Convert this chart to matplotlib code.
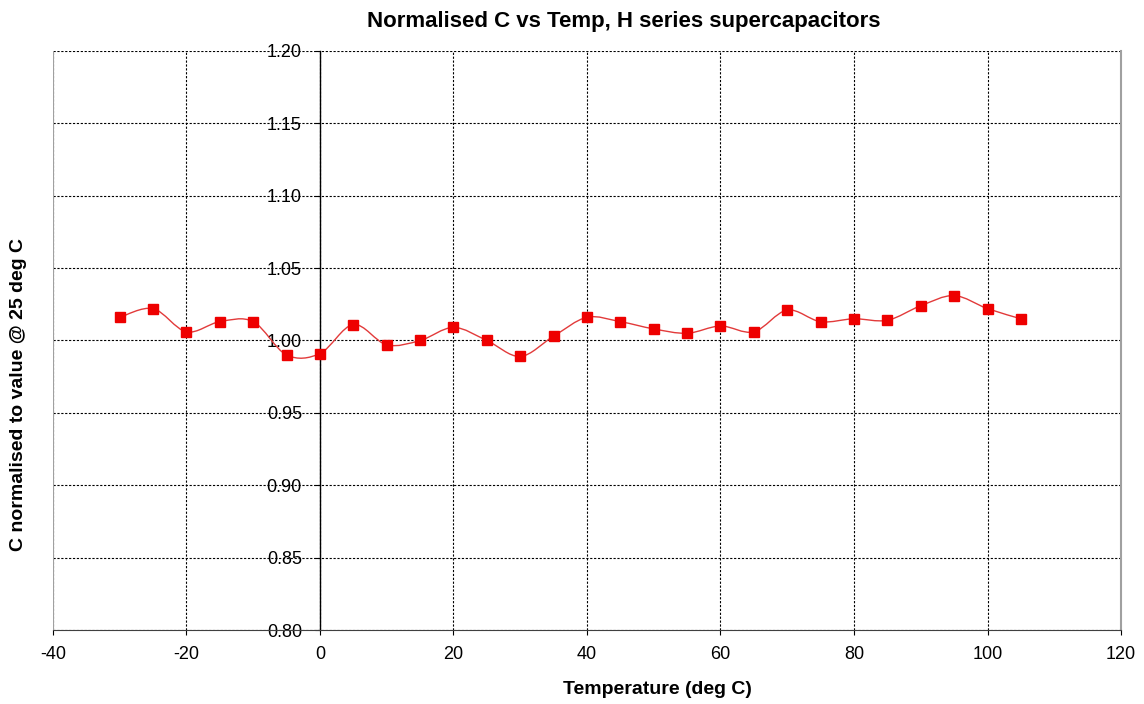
import matplotlib.pyplot as plt
from matplotlib.path import Path
from matplotlib.patches import PathPatch

plt.rcParams['font.family'] = ['Liberation Sans', 'DejaVu Sans']
plt.rcParams['axes.unicode_minus'] = False

# temperatura (deg C) y capacidad normalizada
temperaturas = [-30, -25, -20, -15, -10, -5, 0, 5, 10, 15, 20, 25, 30, 35,
                40, 45, 50, 55, 60, 65, 70, 75, 80, 85, 90, 95, 100, 105]
c_normalizada = [1.016, 1.022, 1.006, 1.013, 1.013, 0.990, 0.991, 1.011,
                 0.997, 1.000, 1.009, 1.000, 0.989, 1.003, 1.016, 1.013,
                 1.008, 1.005, 1.010, 1.006, 1.021, 1.013, 1.015, 1.014,
                 1.024, 1.031, 1.022, 1.015]

x_ticks = [-40, -20, 0, 20, 40, 60, 80, 100, 120]
y_ticks = [0.80, 0.85, 0.90, 0.95, 1.00, 1.05, 1.10, 1.15, 1.20]


def curva_suave(xs, ys, t=1 / 6):
    # linea suavizada tipo Excel: segmentos bezier entre los puntos
    verts = [(xs[0], ys[0])]
    codes = [Path.MOVETO]
    n = len(xs)
    for i in range(n - 1):
        x0, y0 = (xs[i - 1], ys[i - 1]) if i > 0 else (xs[i], ys[i])
        x1, y1 = xs[i], ys[i]
        x2, y2 = xs[i + 1], ys[i + 1]
        x3, y3 = (xs[i + 2], ys[i + 2]) if i + 2 < n else (x2, y2)
        c1 = (x1 + (x2 - x0) * t, y1 + (y2 - y0) * t)
        c2 = (x2 - (x3 - x1) * t, y2 - (y3 - y1) * t)
        verts += [c1, c2, (x2, y2)]
        codes += [Path.CURVE4] * 3
    return Path(verts, codes)


fig = plt.figure(figsize=(11.44, 7.04), dpi=100)
ax = fig.add_axes([0.0463, 0.1051, 0.9336, 0.8225])

ax.set_xlim(-40, 120)
ax.set_ylim(0.80, 1.20)
ax.set_xticks(x_ticks)
ax.set_yticks(y_ticks)
ax.set_yticklabels(["%.2f" % v for v in y_ticks])

ax.grid(True, color="black", linestyle=(0, (2, 1.5)), linewidth=0.8)
ax.set_axisbelow(True)

ax.spines["left"].set_position(("data", 0))
ax.spines["left"].set_color("black")
ax.spines["left"].set_linewidth(1.0)
ax.spines["bottom"].set_color("#404040")
ax.spines["top"].set_visible(False)
ax.spines["right"].set_color("#a0a0a0")
ax.spines["right"].set_linewidth(1.5)
ax.axvline(-40, color="#a0a0a0", linewidth=1.5, zorder=3)

ax.tick_params(axis="both", labelsize=13, direction="out", length=3.5)
ax.tick_params(axis="y", pad=9.5)
ax.tick_params(axis="x", pad=8)

ax.add_patch(PathPatch(curva_suave(temperaturas, c_normalizada),
                       facecolor="none", edgecolor="#e23a3a", linewidth=1.0,
                       zorder=4))
ax.plot(temperaturas, c_normalizada, linestyle="none", marker="s",
        markersize=7, color="#ee0000", zorder=5)

fig.text(0.5745, 0.021, "Temperature (deg C)", fontsize=14,
         fontweight="bold", ha="center", va="center")
fig.text(0.016, 0.44, "C normalised to value @ 25 deg C", rotation=90,
         fontsize=14, fontweight="bold", ha="center", va="center")
fig.text(0.545, 0.969, "Normalised C vs Temp, H series supercapacitors",
         fontsize=16, fontweight="bold", ha="center", va="center")

fig.savefig("out.png", dpi=100)
